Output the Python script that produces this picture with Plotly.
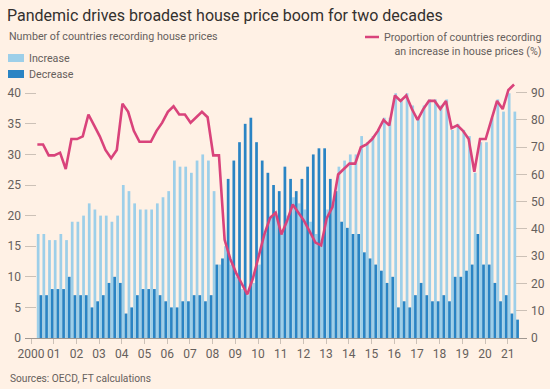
import plotly.graph_objects as go

# Quarters 2000Q2 .. 2021Q2
quarters = [f"{y}Q{q}" for y in range(2000, 2022) for q in range(1, 5)][1:86]

increase = [17, 17, 16, 16, 17, 16, 19, 19, 20, 22, 21, 20, 20, 19, 20, 25, 24, 22, 21, 21, 21, 22, 23, 24,
            29, 28, 28, 27, 29, 30, 29, 24,
            12, 15, 12, 10, 8, 7, 9, 12, 17, 20, 20, 17, 20, 23, 22, 21, 19, 17, 16, 21, 22,
            28, 29, 30, 30, 33, 32, 33, 34, 36, 36,
            40, 39, 40, 38, 36, 38, 39, 39, 38, 39, 34, 35, 34, 33, 27, 32, 32, 36, 39, 37, 40, 37]

decrease = [7, 7, 8, 8, 8, 10, 7, 7, 7, 5, 6, 7, 9, 10, 9, 4, 5, 7, 8, 8, 8, 7, 6, 5,
            5, 6, 6, 7, 7, 6, 7, 12,
            13, 26, 29, 32, 35, 36, 32, 29, 27, 25, 24, 28, 26, 24, 26, 28, 30, 31, 31, 26, 24,
            19, 18, 17, 17, 14, 13, 12, 11, 9, 10,
            5, 6, 5, 7, 9, 7, 6, 6, 7, 6, 10, 10, 11, 12, 17, 12, 12, 9, 6, 7, 4, 3]

pct_increase = [71, 71, 67, 67, 68, 62, 73, 73, 74, 82, 78, 74, 69, 66, 69, 86, 83, 76, 72, 72, 72, 76, 79, 83,
                85, 82, 82, 79, 81, 83, 81, 67,
                67, 36, 29, 24, 20, 16, 22, 30, 38, 44, 46, 38, 43, 49, 46, 43, 39, 35, 34, 44, 48,
                60, 62, 64, 64, 70, 71, 73, 76, 80, 78,
                89, 87, 89, 84, 80, 84, 87, 87, 84, 87, 77, 78, 76, 73, 61, 73, 73, 80, 87, 84, 91, 93]

year_ticks = list(range(2000, 2022))
year_labels = ["2000"] + [f"{y % 100:02d}" for y in range(2001, 2022)]
left_ticks = [0, 5, 10, 15, 20, 25, 30, 35, 40]
right_ticks = [0, 10, 20, 30, 40, 50, 60, 70, 80, 90]

BG = "#fff1e5"
LIGHT = "#9dcfe9"
DARK = "#2a84c4"
PINK = "#d9437b"
TEXT = "#66605c"
FONT = "Roboto"
SMALL = 10.7

# numeric x: quarter start as fraction of year
xq = [int(s[:4]) + (int(s[-1]) - 1) / 4 for s in quarters]
xbar = [v + 0.125 for v in xq]
xline = [v + 0.03 for v in xq]

W, H = 550, 389
ML, MR, MT, MB = 25, 23, 81, 51
PW = W - ML - MR
PH = H - MT - MB


def px(x):
    return (x - ML) / PW


def py(y):
    return (H - MB - y) / PH


fig = go.Figure()
fig.add_trace(go.Bar(x=xbar, y=increase, name="Increase", marker_color=LIGHT,
                     marker_line_width=0, showlegend=False))
fig.add_trace(go.Bar(x=xbar, y=decrease, name="Decrease", marker_color=DARK,
                     marker_line_width=0, showlegend=False))
fig.add_trace(go.Scatter(x=xline, y=pct_increase, yaxis="y2", mode="lines",
                         line=dict(color=PINK, width=2.6), showlegend=False,
                         name="Proportion of countries recording an increase in house prices (%)"))

x0 = 2000 - (31 - ML) / 22.7
x1 = 2000 + (W - MR - 31) / 22.7

fig.update_layout(
    width=W, height=H,
    margin=dict(l=ML, r=MR, t=MT, b=MB, autoexpand=False),
    paper_bgcolor=BG, plot_bgcolor=BG,
    barmode="group", bargap=0.04, bargroupgap=0,
    font=dict(family=FONT, color=TEXT, size=12),
    xaxis=dict(range=[x0, x1], tickvals=year_ticks, ticktext=year_labels, automargin=False,
               ticks="outside", ticklen=5, tickcolor="#ccc1b7", showgrid=False,
               showline=True, linecolor="#a09891", linewidth=1, zeroline=False,
               tickfont=dict(size=12, color=TEXT)),
    yaxis=dict(range=[0, 42], tickvals=left_ticks, ticks="inside", ticklen=11, automargin=False,
               tickcolor="#ccc1b7", showgrid=False, zeroline=False, showline=False,
               tickfont=dict(size=12, color=TEXT), ticklabelstandoff=3),
    yaxis2=dict(range=[0, 94.3], tickvals=right_ticks, overlaying="y", side="right",
                ticks="inside", ticklen=11, tickcolor="#ccc1b7", showgrid=False, automargin=False,
                zeroline=False, showline=False, tickfont=dict(size=12, color=TEXT),
                ticklabelstandoff=3),
)

ann = [
    dict(text="Pandemic drives broadest house price boom for two decades", x=px(5), y=py(15),
         xanchor="left", yanchor="middle", font=dict(size=16, color="#33302e")),
    dict(text="Number of countries recording house prices", x=px(7), y=py(37),
         xanchor="left", yanchor="middle", font=dict(size=SMALL, color=TEXT)),
    dict(text="Increase", x=px(27), y=py(58), xanchor="left", yanchor="middle",
         font=dict(size=SMALL, color=TEXT)),
    dict(text="Decrease", x=px(27), y=py(74), xanchor="left", yanchor="middle",
         font=dict(size=SMALL, color=TEXT)),
    dict(text="Proportion of countries recording<br>an increase in house prices (%)",
         x=px(544), y=py(29), xanchor="right", yanchor="top", align="right",
         font=dict(size=SMALL, color=TEXT)),
    dict(text="Sources: OECD, FT calculations", x=px(8), y=py(378), xanchor="left",
         yanchor="middle", font=dict(size=10.2, color=TEXT)),
]
for a in ann:
    a.update(xref="paper", yref="paper", showarrow=False)
fig.update_layout(annotations=ann)

shapes = [
    dict(type="rect", x0=px(8), x1=px(24), y0=py(54), y1=py(62), fillcolor=LIGHT, line_width=0),
    dict(type="rect", x0=px(8), x1=px(24), y0=py(70), y1=py(78), fillcolor=DARK, line_width=0),
    dict(type="line", x0=px(365), x1=px(379), y0=py(37), y1=py(37), line=dict(color=PINK, width=2.5)),
]
for s in shapes:
    s.update(xref="paper", yref="paper")
fig.update_layout(shapes=shapes)

fig.write_html("out.html", config={"displayModeBar": False},
               post_script="document.body.style.margin='0px';")
